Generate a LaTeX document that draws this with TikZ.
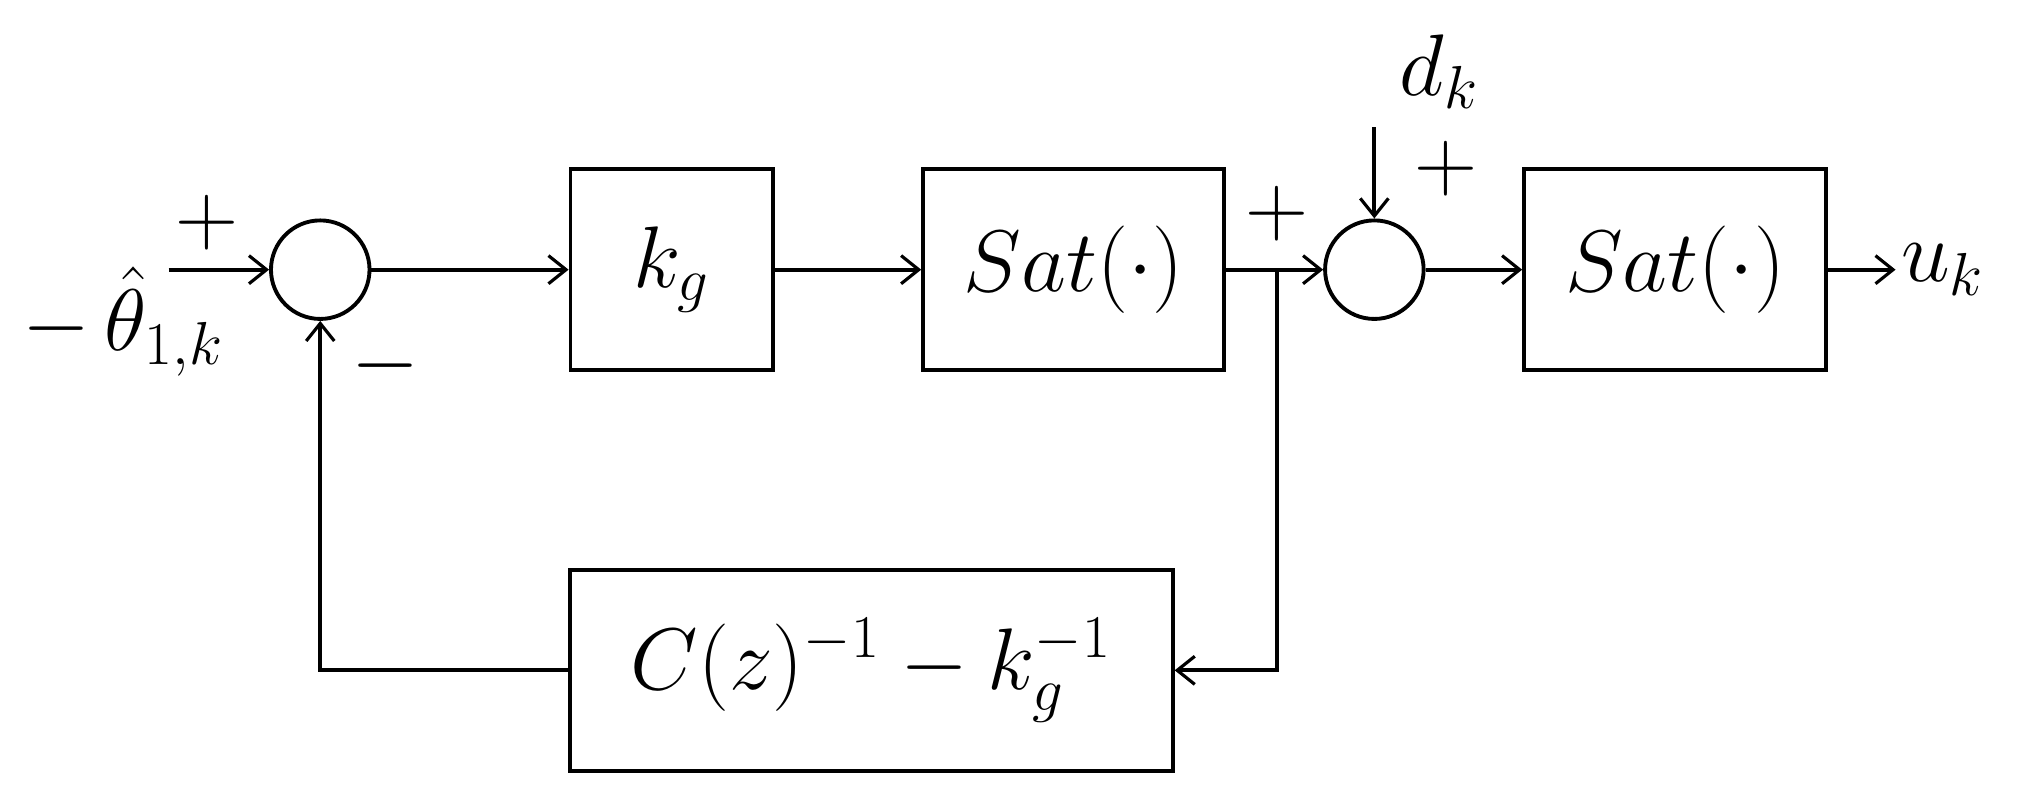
\documentclass[tikz,border=0pt]{standalone}
\usetikzlibrary{arrows.meta}
\begin{document}
\begin{tikzpicture}[x=0.012966cm,y=-0.012966cm,line width=1.1pt,
  blk/.style={draw,minimum width=#1*0.012966cm,minimum height=155*0.012966cm,inner sep=0pt,font=\fontsize{23}{27}\selectfont},
  sumc/.style={draw,circle,minimum size=76*0.012966cm,inner sep=0pt},
  lbl/.style={font=\fontsize{23}{27}\selectfont,inner sep=1pt},
  >={Straight Barb[length=5pt,width=8pt,line width=0.9pt]}]
\useasboundingbox (0,0) rectangle (1568,622);
\node[sumc] (s1) at (247,208) {};
\node[blk=156] (kg) at (518,208) {$k_g$};
\node[blk=232] (sat1) at (828,208) {$Sat(\cdot)$};
\node[sumc] (s2) at (1060,208) {};
\node[blk=233] (sat2) at (1292,208) {$Sat(\cdot)$};
\node[blk=465] (fb) at (672,517) {$C(z)^{-1}-k_g^{-1}$};
\coordinate (in) at (130,208);
\coordinate (br) at (985,208);
\coordinate (out) at (1462,208);
\coordinate (dk) at (1060,98);
\node[lbl] (th) at (95,248) {$-\,\hat{\theta}_{1,k}$};
\node[lbl] (p1) at (160,172) {$+$};
\node[lbl] (m1) at (297,282) {$-$};
\node[lbl] (p2) at (985,165) {$+$};
\node[lbl] (p3) at (1115,130) {$+$};
\node[lbl,anchor=south] (dkl) at (1110,88) {$d_k$};
\node[lbl,anchor=west] (uk) at (out) {$u_k$};
\draw[->] (in) -- (s1);
\draw[->] (s1) -- (kg);
\draw[->] (kg) -- (sat1);
\draw[->] (sat1) -- (s2);
\draw[->] (s2) -- (sat2);
\draw[->] (sat2) -- (out);
\draw[->] (dk) -- (s2);
\draw[->] (br) |- (fb);
\draw[->] (fb.west) -| (s1.south);
\end{tikzpicture}
\end{document}
